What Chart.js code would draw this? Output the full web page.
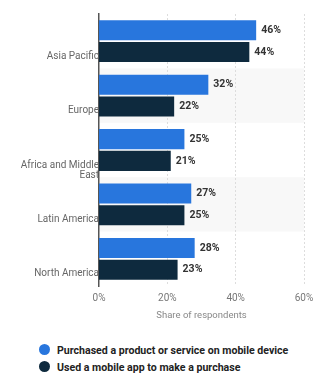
<!DOCTYPE html>
<html>
<head>
<meta charset="utf-8">
<script src="https://cdn.jsdelivr.net/npm/chart.js@4"></script>
<style>
  html, body { margin: 0; padding: 0; background: #fff; }
  body { width: 322px; height: 384px; overflow: hidden; font-family: Roboto, sans-serif; }
  #wrap { position: relative; width: 322px; height: 326px; }
  #legend { margin: 16px 0 0 39px; }
  #legend div { font-size: 10.6px; font-weight: bold; color: #222; height: 17px; line-height: 17px; white-space: nowrap; }
  #legend span { display: inline-block; width: 11px; height: 11px; border-radius: 50%; margin-right: 7px; vertical-align: -1px; }
</style>
</head>
<body>
<div id="wrap"><canvas id="myChart" width="322" height="326"></canvas></div>
<div id="legend"></div>
<script>
// regions and shares (in %)
var regions = ["Asia Pacific", "Europe", ["Africa and Middle", "East"], "Latin America", "North America"];
var purchased = [46, 32, 25, 27, 28];
var usedApp = [44, 22, 21, 25, 23];
var seriesNames = ["Purchased a product or service on mobile device", "Used a mobile app to make a purchase"];
var colors = ["#2876dd", "#0e2a3e"];
var xTicks = [0, 20, 40, 60];

// light stripes behind every second region
var bands = {
  id: 'bands',
  beforeDraw: function(chart) {
    var c = chart.ctx, a = chart.chartArea, y = chart.scales.y;
    var h = (a.bottom - a.top) / regions.length;
    c.save();
    c.fillStyle = "#f8f8f8";
    for (var i = 1; i < regions.length; i += 2) {
      c.fillRect(a.left, y.getPixelForValue(i) - h / 2, a.right - a.left, h);
    }
    c.restore();
  }
};

// value labels at the end of each bar
var valueLabels = {
  id: 'valueLabels',
  afterDatasetsDraw: function(chart) {
    var c = chart.ctx;
    c.save();
    c.font = "bold 10.5px Roboto";
    c.fillStyle = "#333";
    c.textBaseline = "middle";
    chart.data.datasets.forEach(function(ds, di) {
      chart.getDatasetMeta(di).data.forEach(function(bar, i) {
        c.fillText(ds.data[i] + "%", bar.x + 5, bar.y);
      });
    });
    c.restore();
  }
};

var ctx = document.getElementById("myChart").getContext('2d');
var myChart = new Chart(ctx, {
  type: 'bar',
  data: {
    labels: regions,
    datasets: [
      { label: seriesNames[0], data: purchased, backgroundColor: colors[0] },
      { label: seriesNames[1], data: usedApp, backgroundColor: colors[1] }
    ]
  },
  options: {
    indexAxis: 'y',
    responsive: false,
    animation: false,
    categoryPercentage: 0.8,
    barPercentage: 0.92,
    layout: { padding: { top: 14, right: 18, bottom: 0, left: 0 } },
    plugins: { legend: { display: false }, tooltip: { enabled: false } },
    scales: {
      x: {
        min: 0, max: 60,
        afterBuildTicks: function(s) { s.ticks = xTicks.map(function(v) { return { value: v }; }); },
        afterFit: function(s) { s.height = 40; },
        ticks: { color: "#777", font: { family: "Roboto", size: 10 }, padding: 6, maxRotation: 0, callback: function(v) { return v + "%"; } },
        grid: { color: "#ddd", drawTicks: false, lineWidth: function(c) { return c.tick && c.tick.value === 0 ? 0 : 1; } },
        border: { display: false, dash: [2, 2] },
        title: { display: true, text: "Share of respondents", color: "#888", font: { family: "Roboto", size: 9.5 }, padding: { top: 3, bottom: 5 } }
      },
      y: {
        afterFit: function(s) { s.width = 99; },
        ticks: {
          color: "#666", font: { family: "Roboto", size: 10, lineHeight: 1.0 }, padding: 0, labelOffset: 15,
          // wrapped labels start on the same line as single ones
          callback: function(v) { var l = regions[v]; return Array.isArray(l) ? [""].concat(l) : l; }
        },
        grid: { display: false, drawTicks: false },
        border: { display: true, color: "#555", width: 1.5 }
      }
    }
  },
  plugins: [bands, valueLabels]
});

var lg = document.getElementById("legend");
seriesNames.forEach(function(n, i) {
  lg.innerHTML += '<div><span style="background:' + colors[i] + '"></span>' + n + '</div>';
});
</script>
</body>
</html>
